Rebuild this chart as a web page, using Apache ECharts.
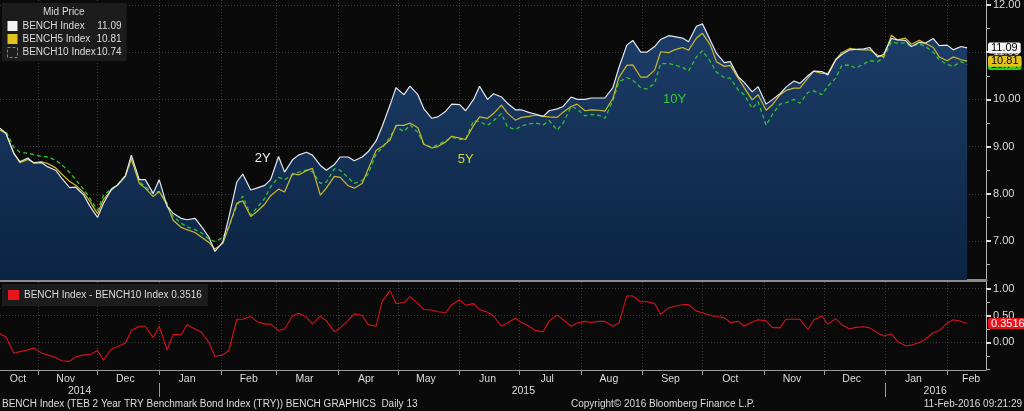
<!DOCTYPE html>
<html>
<head>
<meta charset="utf-8">
<script src="https://cdn.jsdelivr.net/npm/echarts@6/dist/echarts.min.js"></script>
<style>
  html, body { margin: 0; padding: 0; background: #0a0a0a; }
  #chart { width: 1024px; height: 411px; }
</style>
</head>
<body>
<div id="chart"></div>
<script>
// local-time timestamp from 'YYYY-MM-DD'
const ts = s => {
  const [y, m, d] = s.split('-').map(Number)
  return new Date(y, m - 1, d).getTime()
}

// twice a week (Mon / Thu) from 13-Oct-2014 to 11-Feb-2016
const weekCount = 70
const dates = []
for (let w = 0; w < weekCount; w++) {
  dates.push(new Date(2014, 9, 13 + w * 7).getTime())
  dates.push(new Date(2014, 9, 16 + w * 7).getTime())
}

// BENCH Index (2Y)
const bench2y = [
  9.39, 9.28, 8.85, 8.68, 8.76, 8.65, 8.66, 8.57, 8.50, 8.33,
  8.13, 8.14, 7.98, 7.75, 7.50, 7.80, 8.10, 8.18, 8.38, 8.82,
  8.30, 8.30, 8.01, 8.30, 7.73, 7.59, 7.48, 7.45, 7.48, 7.32,
  7.08, 6.78, 6.98, 7.50, 8.25, 8.42, 8.08, 8.12, 8.18, 8.30,
  8.79, 8.46, 8.72, 8.82, 8.88, 8.82, 8.60, 8.50, 8.62, 8.78,
  8.78, 8.70, 8.78, 8.89, 9.12, 9.42, 9.88, 10.25, 10.10, 10.28,
  10.10, 9.80, 9.60, 9.63, 9.75, 9.90, 9.89, 9.76, 10.00, 10.28,
  10.00, 10.12, 10.05, 9.92, 9.78, 9.78, 9.72, 9.69, 9.64, 9.76,
  9.80, 9.85, 10.05, 10.00, 10.00, 10.03, 10.03, 10.03, 10.25, 10.67,
  11.15, 11.25, 11.00, 11.00, 11.12, 11.27, 11.35, 11.33, 11.30, 11.22,
  11.55, 11.60, 11.25, 10.98, 10.78, 10.80, 10.48, 10.36, 10.16, 10.27,
  9.90, 9.99, 10.12, 10.26, 10.39, 10.34, 10.50, 10.60, 10.59, 10.52,
  10.84, 10.95, 11.05, 11.06, 11.07, 11.10, 10.90, 10.95, 11.29, 11.26,
  11.25, 11.12, 11.21, 11.19, 11.29, 11.14, 11.15, 11.05, 11.12, 11.09
]
// BENCH5 Index (5Y)
const bench5y = [
  9.35, 9.28, 8.86, 8.66, 8.73, 8.66, 8.68, 8.64, 8.55, 8.42,
  8.26, 8.18, 8.03, 7.85, 7.58, 7.88, 8.08, 8.19, 8.37, 8.74,
  8.22, 8.12, 7.94, 8.05, 7.76, 7.44, 7.29, 7.24, 7.18, 7.09,
  6.97, 6.83, 6.95, 7.30, 7.80, 7.85, 7.52, 7.62, 7.78, 7.96,
  8.10, 8.04, 8.43, 8.40, 8.49, 8.54, 7.97, 8.12, 8.37, 8.35,
  8.17, 8.12, 8.22, 8.52, 8.92, 9.00, 9.14, 9.45, 9.45, 9.50,
  9.40, 9.05, 8.97, 9.00, 9.10, 9.22, 9.18, 9.15, 9.45, 9.63,
  9.60, 9.70, 9.88, 9.71, 9.56, 9.62, 9.64, 9.67, 9.64, 9.63,
  9.62, 9.73, 9.85, 9.90, 9.76, 9.78, 9.77, 9.75, 10.02, 10.46,
  10.72, 10.73, 10.47, 10.47, 10.62, 11.01, 10.99, 11.05, 11.10, 11.04,
  11.30, 11.40, 11.15, 10.80, 10.70, 10.72, 10.45, 10.25, 9.99, 10.10,
  9.77, 9.88, 10.10, 10.19, 10.24, 10.24, 10.45, 10.60, 10.55, 10.55,
  10.85, 10.99, 11.08, 11.06, 11.05, 11.05, 10.94, 10.90, 11.36, 11.26,
  11.30, 11.17, 11.25, 11.19, 11.10, 10.90, 10.82, 10.90, 10.84, 10.81
]
// BENCH10 Index (10Y)
const bench10y = [
  9.35, 9.32, 8.98, 8.88, 8.86, 8.83, 8.79, 8.78, 8.71, 8.62,
  8.45, 8.30, 8.10, 7.92, 7.65, 7.97, 8.10, 8.19, 8.39, 8.75,
  8.26, 8.15, 8.00, 8.05, 7.80, 7.52, 7.38, 7.30, 7.24, 7.18,
  7.04, 6.99, 7.07, 7.30, 7.75, 7.95, 7.55, 7.70, 7.90, 8.15,
  8.35, 8.30, 8.40, 8.46, 8.50, 8.47, 8.22, 8.25, 8.53, 8.50,
  8.34, 8.22, 8.28, 8.42, 8.85, 8.96, 9.20, 9.42, 9.32, 9.46,
  9.30, 9.05, 8.98, 9.04, 9.12, 9.20, 9.15, 9.16, 9.55, 9.53,
  9.45, 9.55, 9.70, 9.42, 9.36, 9.44, 9.48, 9.50, 9.46, 9.55,
  9.35, 9.50, 9.85, 9.80, 9.65, 9.68, 9.66, 9.60, 9.98, 10.37,
  10.46, 10.41, 10.25, 10.22, 10.34, 10.76, 10.76, 10.73, 10.68, 10.60,
  10.90, 11.03, 10.80, 10.58, 10.46, 10.45, 10.20, 10.10, 9.81, 9.95,
  9.45, 9.67, 9.90, 9.93, 10.00, 9.92, 10.15, 10.18, 10.10, 10.28,
  10.45, 10.72, 10.73, 10.66, 10.75, 10.82, 10.80, 10.88, 11.22, 11.19,
  11.20, 11.12, 11.18, 11.12, 11.00, 10.84, 10.74, 10.70, 10.80, 10.74
]
// BENCH Index - BENCH10 Index
const spread = [
  0.16, 0.10, -0.20, -0.17, -0.14, -0.10, -0.20, -0.23, -0.28, -0.34,
  -0.35, -0.27, -0.23, -0.23, -0.15, -0.33, -0.12, -0.08, -0.01, 0.22,
  0.30, 0.30, 0.09, 0.30, -0.14, 0.15, 0.14, 0.33, 0.25, 0.20,
  0.00, -0.26, -0.23, -0.15, 0.43, 0.43, 0.48, 0.39, 0.34, 0.34,
  0.22, 0.25, 0.49, 0.54, 0.47, 0.34, 0.49, 0.40, 0.20, 0.27,
  0.41, 0.53, 0.50, 0.33, 0.30, 0.76, 0.96, 0.72, 0.74, 0.85,
  0.72, 0.61, 0.60, 0.57, 0.55, 0.70, 0.79, 0.69, 0.72, 0.61,
  0.56, 0.49, 0.30, 0.36, 0.45, 0.37, 0.30, 0.22, 0.20, 0.40,
  0.51, 0.42, 0.30, 0.36, 0.39, 0.37, 0.39, 0.39, 0.30, 0.36,
  0.86, 0.86, 0.75, 0.76, 0.72, 0.52, 0.64, 0.67, 0.70, 0.70,
  0.58, 0.55, 0.50, 0.48, 0.46, 0.37, 0.39, 0.30, 0.38, 0.42,
  0.40, 0.28, 0.27, 0.43, 0.43, 0.43, 0.24, 0.42, 0.49, 0.34,
  0.44, 0.33, 0.25, 0.28, 0.29, 0.27, 0.18, 0.12, 0.16, 0.02,
  -0.06, -0.05, 0.00, 0.06, 0.18, 0.22, 0.36, 0.42, 0.39, 0.3516
]

// axis ticks and labels
const monthNames = ['Jan', 'Feb', 'Mar', 'Apr', 'May', 'Jun', 'Jul', 'Aug', 'Sep', 'Oct', 'Nov', 'Dec']
const monthStarts = ['2014-11-01', '2014-12-01', '2015-01-01', '2015-02-01', '2015-03-01', '2015-04-01',
  '2015-05-01', '2015-06-01', '2015-07-01', '2015-08-01', '2015-09-01', '2015-10-01',
  '2015-11-01', '2015-12-01', '2016-01-01', '2016-02-01'].map(ts)
const monthLabelDates = ['2014-10-22', '2014-11-15', '2014-12-15', '2015-01-15', '2015-02-15', '2015-03-15',
  '2015-04-15', '2015-05-15', '2015-06-15', '2015-07-15', '2015-08-15', '2015-09-15',
  '2015-10-15', '2015-11-15', '2015-12-15', '2016-01-15', '2016-02-13'].map(ts)
const yearLabelDates = ['2014-11-22', '2015-07-03', '2016-01-26'].map(ts)
const yearStarts = ['2015-01-01', '2016-01-01'].map(ts)
const priceTicks = [7, 8, 9, 10, 11, 12]
const priceMinorTicks = [6.5, 7.5, 8.5, 9.5, 10.5, 11.5]
const spreadTicks = [0, 0.5, 1]
const spreadMinorTicks = [-0.5, -0.25, 0.25, 0.75]

const FONT = 'Liberation Sans'
const C_WHITE = '#e4e8f0'
const C_YELLOW = '#cdb92a'
const C_GREEN = '#2fc32f'
const C_RED = '#d8101c'
const C_TEXT = '#dcdcdc'
const C_GRID = '#3a3a3a'

const last = arr => arr[arr.length - 1]
const toPairs = vals => vals.map((v, i) => [dates[i], v])
const lastValues = {
  'BENCH Index': last(bench2y).toFixed(2),
  'BENCH5 Index': last(bench5y).toFixed(2),
  'BENCH10 Index': last(bench10y).toFixed(2)
}

function tag(value, text, bg, fg) {
  return {
    symbol: 'none',
    silent: true,
    animation: false,
    lineStyle: { color: 'rgba(0,0,0,0)', width: 0 },
    data: [{ yAxis: value }],
    label: {
      position: 'end',
      distance: 2,
      formatter: text,
      backgroundColor: bg,
      color: fg,
      fontFamily: FONT,
      fontSize: 11,
      lineHeight: 11,
      padding: [0, 3, 0, 3],
      borderRadius: 2
    }
  }
}

function note(date, value, text, color) {
  return {
    silent: true,
    animation: false,
    data: [{
      coord: [ts(date), value],
      symbol: 'circle',
      symbolSize: 0,
      label: { show: true, position: 'inside', formatter: text, color: color, fontFamily: FONT, fontSize: 13 }
    }]
  }
}

const chart = echarts.init(document.getElementById('chart'))

const xMin = ts('2014-10-13')
const xMax = new Date(2016, 1, 20, 12).getTime()

function dayAxis(gridIndex) {
  return { type: 'value', gridIndex: gridIndex, min: xMin, max: xMax, scale: true }
}

const options = {
  backgroundColor: '#0a0a0a',
  animation: false,
  textStyle: { fontFamily: FONT },
  grid: [
    { left: 0, right: 38, top: 0, height: 280, outerBoundsMode: 'none' },
    { left: 0, right: 38, top: 282, height: 88, outerBoundsMode: 'none' }
  ],
  title: {
    text: 'Mid Price',
    left: 43,
    top: 7,
    padding: 0,
    textStyle: { color: C_TEXT, fontSize: 10, fontWeight: 'normal', fontFamily: FONT }
  },
  legend: [
    {
      data: [
        { name: 'BENCH Index', icon: 'rect', itemStyle: { color: '#f4f4f4' } },
        { name: 'BENCH5 Index', icon: 'rect', itemStyle: { color: '#e2c21e' } },
        { name: 'BENCH10 Index', icon: 'rect', itemStyle: { color: '#1c1c1c', borderColor: C_GREEN, borderWidth: 1, borderType: [3, 2] } }
      ],
      orient: 'vertical',
      left: 2,
      top: 3,
      padding: [18, 5, 3, 5],
      itemGap: 3,
      itemWidth: 10,
      itemHeight: 10,
      backgroundColor: '#1c1c1c',
      selectedMode: false,
      formatter: name => `{n|${name}}{v|${lastValues[name]}}`,
      textStyle: {
        color: C_TEXT,
        fontSize: 10,
        fontFamily: FONT,
        rich: {
          n: { width: 75, fontSize: 10, color: C_TEXT, fontFamily: FONT },
          v: { width: 24, align: 'right', fontSize: 10, color: C_TEXT, fontFamily: FONT }
        }
      }
    },
    {
      data: [{ name: 'BENCH Index - BENCH10 Index', icon: 'rect', itemStyle: { color: '#e8141c' } }],
      left: 2,
      top: 284,
      padding: [6, 6, 6, 6],
      itemWidth: 11,
      itemHeight: 10,
      backgroundColor: '#1c1c1c',
      selectedMode: false,
      formatter: name => name + ' ' + last(spread).toFixed(4),
      textStyle: { color: C_TEXT, fontSize: 10, fontFamily: FONT }
    }
  ],
  xAxis: [
    Object.assign(dayAxis(0), {
      axisLine: { show: true, onZero: false, lineStyle: { color: '#8c8c8c', width: 3 } },
      axisTick: { show: false, customValues: monthStarts },
      axisLabel: { show: false },
      splitLine: { show: true, lineStyle: { color: C_GRID, type: [1, 2] } }
    }),
    Object.assign(dayAxis(1), {
      axisLine: { show: true, onZero: false, lineStyle: { color: '#9a9a9a', width: 1 } },
      axisTick: { show: true, customValues: monthStarts, length: 5, lineStyle: { color: '#9a9a9a' } },
      axisLabel: {
        customValues: monthLabelDates,
        formatter: v => monthNames[new Date(v).getMonth()],
        color: C_TEXT,
        fontSize: 10.5,
        fontFamily: FONT,
        margin: 4
      },
      splitLine: { show: true, lineStyle: { color: C_GRID, type: [1, 2] } }
    }),
    Object.assign(dayAxis(1), {
      position: 'bottom',
      offset: 13,
      axisLine: { show: false, onZero: false },
      axisTick: { show: true, customValues: yearStarts, length: 14, lineStyle: { color: '#9a9a9a' } },
      axisLabel: {
        customValues: yearLabelDates,
        formatter: v => String(new Date(v).getFullYear()),
        color: C_TEXT,
        fontSize: 10.5,
        fontFamily: FONT,
        margin: 3
      },
      splitLine: { show: false }
    })
  ],
  yAxis: [
    {
      type: 'value',
      gridIndex: 0,
      position: 'right',
      min: 6.174,
      max: 12.106,
      axisLine: { show: true, lineStyle: { color: '#b4b4b4' } },
      axisTick: { show: true, customValues: priceTicks, length: 5, lineStyle: { color: '#dcdcdc', width: 2 } },
      axisLabel: { customValues: priceTicks, formatter: v => v.toFixed(2), color: C_TEXT, fontSize: 11, fontFamily: FONT, margin: 7 },
      splitLine: { show: true, lineStyle: { color: C_GRID, type: [1, 2] } }
    },
    {
      type: 'value',
      gridIndex: 0,
      position: 'right',
      min: 6.174,
      max: 12.106,
      axisLine: { show: false },
      axisTick: { show: true, customValues: priceMinorTicks, length: 4, lineStyle: { color: '#b4b4b4' } },
      axisLabel: { show: false },
      splitLine: { show: false }
    },
    {
      type: 'value',
      gridIndex: 1,
      position: 'right',
      min: -0.51,
      max: 1.12,
      axisLine: { show: true, lineStyle: { color: '#b4b4b4' } },
      axisTick: { show: true, customValues: spreadTicks, length: 5, lineStyle: { color: '#dcdcdc', width: 2 } },
      axisLabel: { customValues: spreadTicks, formatter: v => v.toFixed(2), color: C_TEXT, fontSize: 11, fontFamily: FONT, margin: 7 },
      splitLine: { show: true, lineStyle: { color: C_GRID, type: [1, 2] } }
    },
    {
      type: 'value',
      gridIndex: 1,
      position: 'right',
      min: -0.51,
      max: 1.12,
      axisLine: { show: false },
      axisTick: { show: true, customValues: spreadMinorTicks, length: 4, lineStyle: { color: '#b4b4b4' } },
      axisLabel: { show: false },
      splitLine: { show: false }
    }
  ],
  series: [
    {
      // fill under the 2Y curve
      name: 'fill',
      type: 'line',
      xAxisIndex: 0,
      yAxisIndex: 0,
      data: toPairs(bench2y),
      symbol: 'none',
      silent: true,
      z: 1,
      lineStyle: { width: 0 },
      areaStyle: {
        origin: 'start',
        opacity: 1,
        color: new echarts.graphic.LinearGradient(0, 0, 0, 1, [
          { offset: 0, color: '#1d3d69' },
          { offset: 1, color: '#0c2443' }
        ])
      }
    },
    {
      name: 'BENCH10 Index',
      type: 'line',
      xAxisIndex: 0,
      yAxisIndex: 0,
      data: toPairs(bench10y),
      symbol: 'none',
      z: 3,
      lineStyle: { color: C_GREEN, width: 1.3, type: [4, 3] },
      itemStyle: { color: C_GREEN },
      markLine: tag(last(bench10y), last(bench10y).toFixed(2), '#22d022', '#000'),
      markPoint: note('2015-09-17', 10.0, '10Y', '#33cc33')
    },
    {
      name: 'BENCH5 Index',
      type: 'line',
      xAxisIndex: 0,
      yAxisIndex: 0,
      data: toPairs(bench5y),
      symbol: 'none',
      z: 4,
      lineStyle: { color: C_YELLOW, width: 1.2 },
      itemStyle: { color: C_YELLOW },
      markLine: tag(last(bench5y), last(bench5y).toFixed(2), '#e2c21e', '#000'),
      markPoint: note('2015-06-04', 8.72, '5Y', '#d6d22a')
    },
    {
      name: 'BENCH Index',
      type: 'line',
      xAxisIndex: 0,
      yAxisIndex: 0,
      data: toPairs(bench2y),
      symbol: 'none',
      z: 5,
      lineStyle: { color: C_WHITE, width: 1.2 },
      itemStyle: { color: C_WHITE },
      markLine: tag(last(bench2y), last(bench2y).toFixed(2), '#f4f4f4', '#000'),
      markPoint: note('2015-02-22', 8.76, '2Y', '#f0f0f0')
    },
    {
      name: 'BENCH Index - BENCH10 Index',
      type: 'line',
      xAxisIndex: 1,
      yAxisIndex: 2,
      data: toPairs(spread),
      symbol: 'none',
      z: 3,
      lineStyle: { color: C_RED, width: 1.1 },
      itemStyle: { color: C_RED },
      markLine: tag(last(spread), last(spread).toFixed(4), '#e8141c', '#fff')
    }
  ],
  graphic: [
    {
      type: 'text',
      left: 2,
      top: 399,
      style: { text: 'BENCH Index (TEB 2 Year TRY Benchmark Bond Index (TRY)) BENCH GRAPHICS  Daily 13', fill: C_TEXT, fontSize: 10, fontFamily: FONT }
    },
    {
      type: 'text',
      left: 571,
      top: 399,
      style: { text: 'Copyright\u00a9 2016 Bloomberg Finance L.P.', fill: C_TEXT, fontSize: 10, fontFamily: FONT }
    },
    {
      type: 'text',
      right: 2,
      top: 399,
      style: { text: '11-Feb-2016 09:21:29', fill: C_TEXT, fontSize: 10, fontFamily: FONT }
    }
  ]
}

chart.setOption(options)
</script>
</body>
</html>
